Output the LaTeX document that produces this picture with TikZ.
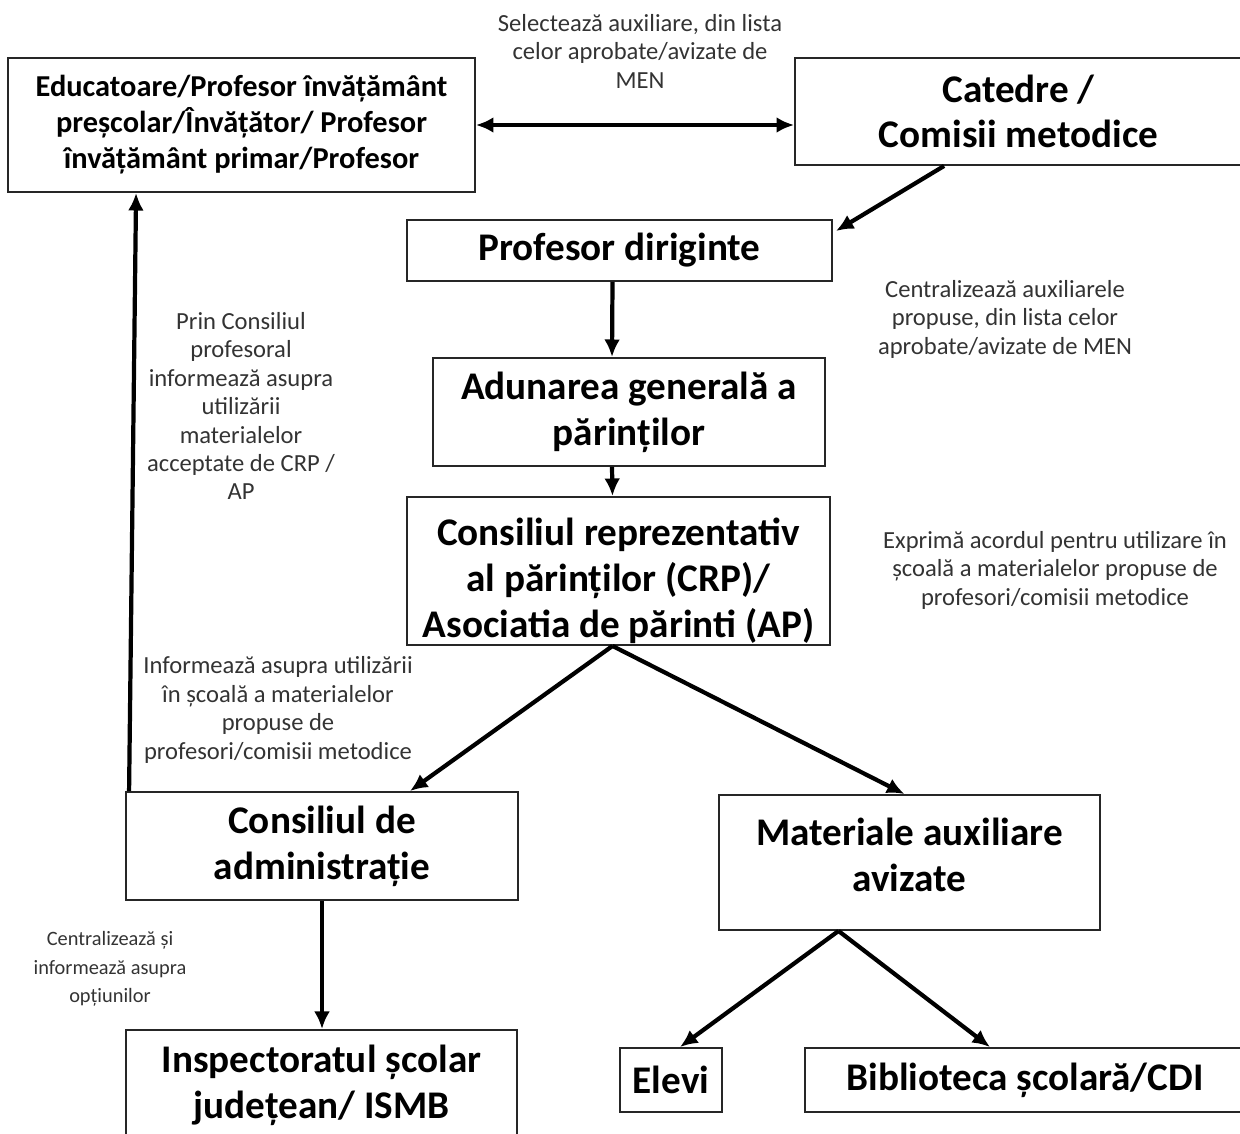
\documentclass[tikz,border=0pt]{standalone}
\usepackage{fontspec}
\setmainfont{Carlito}
\usepackage{tikz}
\usetikzlibrary{arrows.meta,positioning,calc}

\begin{document}
\begin{tikzpicture}
[x=0.02cm,y=-0.02cm,
edge/.style={>={Latex[length=10pt,width=9pt]}, line width=2.4pt},
block/.style={draw=black!85,line width=1.1pt,align=center,inner sep=0pt,
  font=\bfseries\fontsize{22.3}{26}\selectfont},
boxtext/.style={align=center,font=\bfseries\fontsize{22.3}{26}\selectfont},
note/.style={align=center,text=black!80,font=\fontsize{14}{16.2}\selectfont}]
\useasboundingbox (0,0) rectangle (1240,1133);
\node (edu) [block,minimum width=9.34cm,minimum height=2.68cm,
  font=\bfseries\fontsize{17.3}{20.5}\selectfont] at (241.5,125) {Educatoare/Profesor învățământ\\
preșcolar/Învățător/ Profesor\\
învățământ primar/Profesor};
\node (cat) [block,minimum width=8.94cm,minimum height=2.14cm] at (1018.5,111.5) {Catedre /\\
Comisii metodice};
%%
\draw[edge,<->] (edu.east) -- (edu.east -| cat.west);
\node (selNote) [note] at (640,51) {Selectează auxiliare, din lista\\
celor aprobate/avizate de\\
MEN};
%%
\node (dir) [block,minimum width=8.5cm,minimum height=1.22cm] at (619.5,250.5) {Profesor diriginte};
\draw[edge,->] ($(cat.south west)+(150,0)$) -- ($(dir.north east)+(3,12)$);
\node (centNote) [note] at (1005,319) {Centralizează auxiliarele\\
propuse, din lista celor\\
aprobate/avizate de MEN};
%%
\node (adu) [block,minimum width=7.84cm,minimum height=2.16cm] at (629,412) {Adunarea generală a\\
părinților};
\draw[edge,->] ($(dir.south)+(-7,0)$) -- ($(adu.north)+(-17,0)$);
%%
\node (crp) [block,minimum width=8.46cm,minimum height=2.96cm,
  label={[boxtext,yshift=-5.5pt]center:{Consiliul reprezentativ\\
al părinților (CRP)/\\
Asociatia de părinti (AP)}}] at (618.5,571) {};
\draw[edge,->] ($(adu.south)+(-17,0)$) -- ($(crp.north)+(-6,0)$);
\node (acNote) [note] at (1055,570) {Exprimă acordul pentru utilizare în\\
școală a materialelor propuse de\\
profesori/comisii metodice};
%%
\node (cadm) [block,minimum width=7.84cm,minimum height=2.16cm] at (322,846) {Consiliul de\\
administrație};
\node (mat) [block,minimum width=7.62cm,minimum height=2.7cm,
  label={[boxtext,yshift=4.5pt]center:{Materiale auxiliare\\
avizate}}] at (909.5,862.5) {};
\draw[edge,->] ($(crp.south)+(-6,0)$) -- ($(cadm.north)+(88,0)$);
\draw[edge,->] ($(crp.south)+(-6,0)$) -- ($(mat.north)+(-5,0)$);
\node (infNote) [note] at (278,710) {Informează asupra utilizării\\
în școală a materialelor\\
propuse de\\
profesori/comisii metodice};
%%
\draw[edge,->] ($(cadm.north west)+(4,0)$) -- ($(edu.south west)+(129,0)$);
\node (prinNote) [note] at (241,406) {Prin Consiliul\\
profesoral\\
informează asupra\\
utilizării\\
materialelor\\
acceptate de CRP /\\
AP};
%%
\node (insp) [block,minimum width=7.82cm,minimum height=2.2cm] at (321.5,1085) {Inspectoratul școlar\\
județean/ ISMB};
\draw[edge,->] (cadm.south) -- (cadm.south |- insp.north);
\node (optNote) [note,font=\fontsize{11.6}{16.2}\selectfont] at (110,969) {Centralizează și\\
informează asupra\\
opțiunilor};
%%
\node (elevi) [block,minimum width=2.04cm,minimum height=1.28cm] at (671,1080) {Elevi};
\node (bib) [block,minimum width=8.8cm,minimum height=1.28cm] at (1025,1080) {Biblioteca școlară/CDI};
\draw[edge,->] ($(mat.south)+(-71,0)$) -- ($(elevi.north)+(9,0)$);
\draw[edge,->] ($(mat.south)+(-71,0)$) -- ($(bib.north)+(-35,0)$);
%%
\end{tikzpicture}
\end{document}
